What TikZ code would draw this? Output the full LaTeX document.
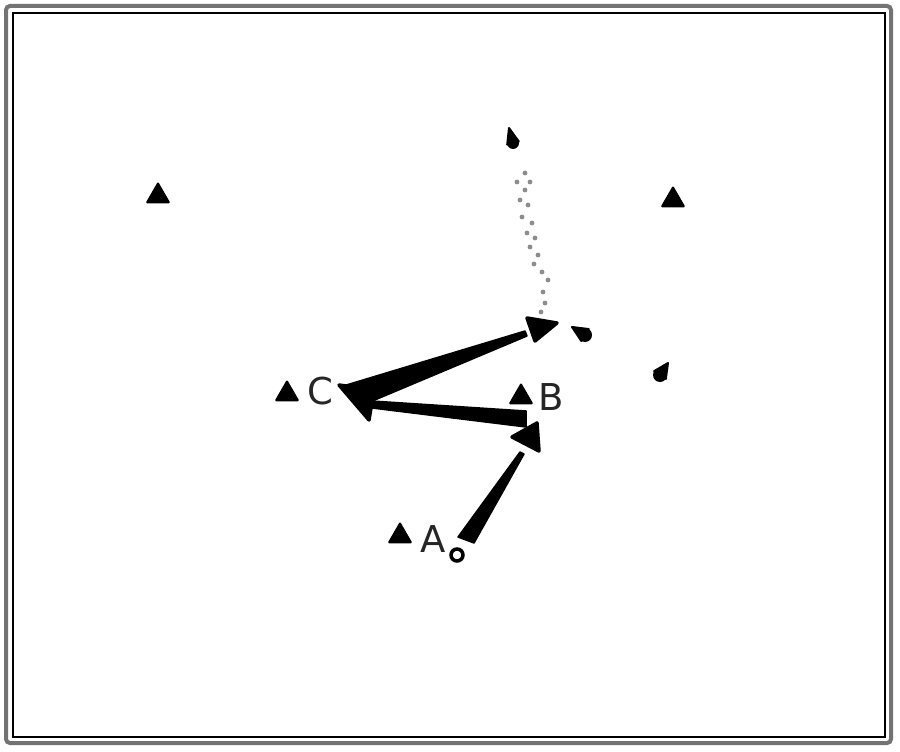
\documentclass[tikz,border=0pt]{standalone}
\usepackage{fontspec}
\setmainfont{DejaVu Sans}
\usetikzlibrary{shapes.geometric,calc}
\tikzset{
  station/.style={regular polygon, regular polygon sides=3, fill=black, draw=black, line join=round, line width=2pt, inner sep=0pt, minimum size=25pt},
  lbl/.style={font=\fontsize{37}{42}\selectfont, inner sep=0pt, text=black!85},
  wedge/.style={fill=black, draw=black, line width=1.5pt, line join=round},
  head/.style={fill=black, draw=black, line width=3.5pt, line join=round},
  dot/.style={fill=black!45},
  droptip/.style={fill=black, draw=black, line width=2pt, line join=round},
}
\newcommand{\mydrop}[3]{% center, tip, radius
  \fill (#1) circle (#3);
  \filldraw[droptip] (#2) -- ($(#1)!#3!90:(#2)$) -- ($(#1)!#3!-90:(#2)$) -- cycle;
}
\begin{document}
\begin{tikzpicture}[x=1pt,y=-1pt]
\useasboundingbox (0,0) rectangle (900,752);
% frame
\draw[black!55, line width=4pt, rounded corners=4pt] (6,6) rectangle (891,743);
\draw[black, line width=1.1pt] (13,13) rectangle (885,737);
% stations
\node[station] (s1) at (158,196) {};
\node[station] (s2) at (673,200) {};
\node[station] (sc) at (287,394) {};
\node[station] (sb) at (521,397) {};
\node[station] (sa) at (400,536) {};
\node[lbl] (lc) at (320,391) {C};
\node[lbl] (lb) at (551,397) {B};
\node[lbl] (la) at (433,539) {A};
\draw[line width=3.5pt] (457,555) circle (6pt);
% wedges
\filldraw[wedge] (458,537) -- (474,543) -- (524,454) -- (520,452) -- cycle;
\filldraw[wedge] (526,411) -- (526,427) -- (372,408) -- (372,401) -- cycle;
\filldraw[wedge] (343,386) -- (370,402) -- (527,336) -- (525,331) -- cycle;
% heads
\filldraw[head] (339,385) -- (374,390) -- (369,420) -- cycle;
\filldraw[head] (512,437) -- (537,423) -- (539,451) -- cycle;
\filldraw[head] (527,318) -- (557,323) -- (535,341) -- cycle;
% drops
\coordinate (d1c) at (513,143); \coordinate (d1t) at (509,128);
\coordinate (d2c) at (585,335); \coordinate (d2t) at (572,327);
\coordinate (d3c) at (660,375); \coordinate (d3t) at (668,363);
\mydrop{d1c}{d1t}{6pt}
\mydrop{d2c}{d2t}{7pt}
\mydrop{d3c}{d3t}{7pt}
% dotted trail
\foreach \p in {(525,173),(517,182),(530,182),(525,190),(520,200),(528,205),(522,217),(532,223),(527,233),(535,238),(530,247),(538,255),(534,264),(542,272),(548,280),(543,292),(545,303),(541,312)}
  \fill[dot] \p circle (2.4pt);
\end{tikzpicture}
\end{document}
